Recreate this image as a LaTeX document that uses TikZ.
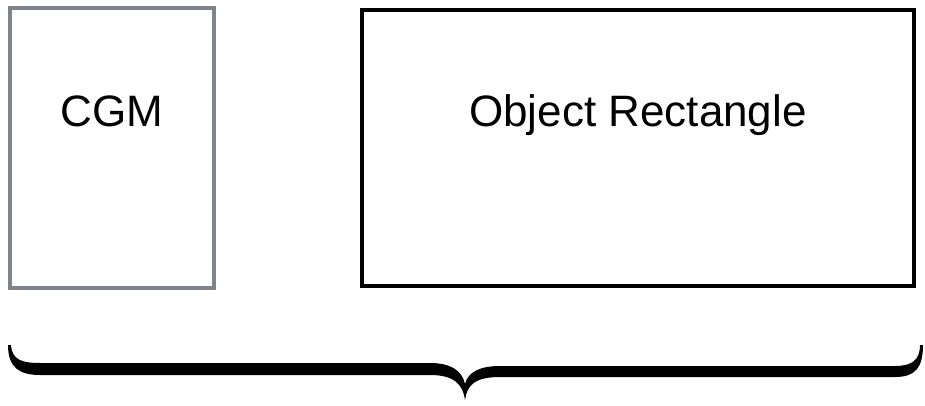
\documentclass[tikz,border=0pt]{standalone}
\usepackage{fontspec}
\setmainfont{Liberation Sans}
\tikzset{
  box/.style={draw, line width=3.6pt, inner sep=0pt},
  cgmbox/.style={box, draw=cgmgray, minimum width=153pt, minimum height=210pt},
  objbox/.style={box, draw=black, minimum width=414pt, minimum height=207pt},
  boxtext/.style={anchor=base, font=\fontsize{33}{40}\selectfont},
}
\definecolor{cgmgray}{RGB}{128,132,136}
\begin{document}
\begin{tikzpicture}[x=0.75pt, y=-0.75pt]

\useasboundingbox (0,0) rectangle (925,406);

% the two boxes
\node[cgmbox] (cgm) at (112,148) {};
\node[objbox] (obj) at (638,148) {};

\node[boxtext] (cgmtext) at (112,127) {CGM};
\node[boxtext] (objtext) at (638,127) {Object Rectangle};

% brace under both boxes
\fill (8,345) .. controls (8,368) and (20,375) .. (40,375) -- (430,375)
  .. controls (455,375) and (463,385) .. (465,400)
  .. controls (467,385) and (475,377) .. (500,377) -- (895,377)
  .. controls (915,377) and (923,368) .. (923,345) -- (920,345)
  .. controls (920,360) and (912,366) .. (895,366) -- (500,366)
  .. controls (480,366) and (468,372) .. (465,384)
  .. controls (462,370) and (450,363) .. (430,363) -- (40,363)
  .. controls (22,363) and (12,360) .. (11,345) -- cycle;

\end{tikzpicture}
\end{document}
